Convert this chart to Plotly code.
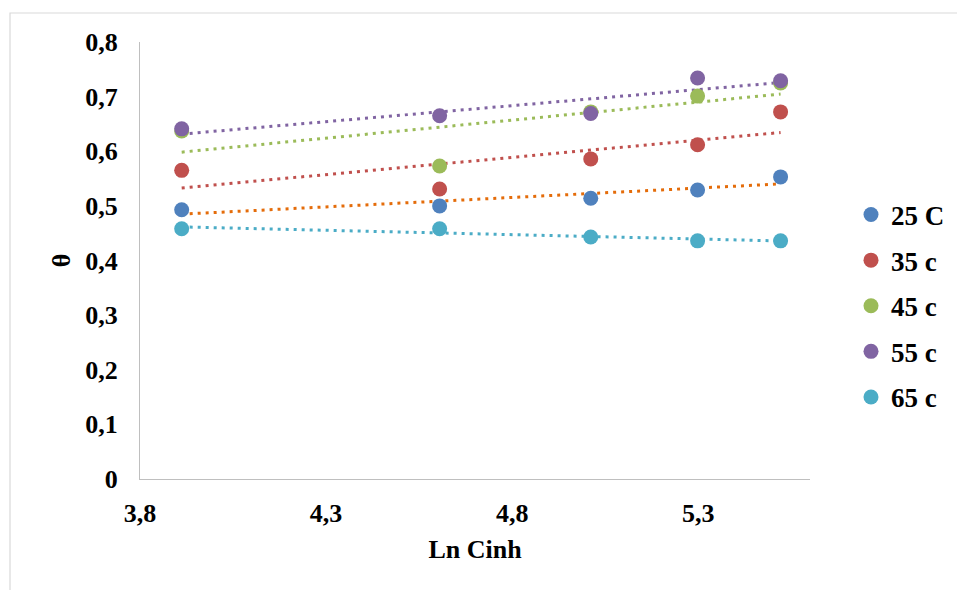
import numpy as np
import plotly.graph_objects as go

# Data
ln_cinh = [3.912, 4.605, 5.011, 5.298, 5.521]
series_names = ["25 C", "35 c", "45 c", "55 c", "65 c"]
theta_25 = [0.493, 0.500, 0.514, 0.529, 0.553]
theta_35 = [0.565, 0.531, 0.586, 0.612, 0.672]
theta_45 = [0.637, 0.573, 0.672, 0.701, 0.725]
theta_55 = [0.641, 0.665, 0.669, 0.734, 0.729]
theta_65 = [0.458, 0.458, 0.443, 0.436, 0.436]
x_ticks = [3.8, 4.3, 4.8, 5.3]

series_values = [theta_25, theta_35, theta_45, theta_55, theta_65]
marker_colors = ["#4F81BD", "#C0504D", "#9BBB59", "#8064A2", "#4BACC6"]
trend_colors = ["#E46C0A", "#C0504D", "#9BBB59", "#8064A2", "#4BACC6"]

W, H = 957, 590
PL, PT, PR, PB = 140, 42, 810, 479  # plot area in page pixels
L, T = PL, PT
pw, ph = PR - PL, PB - PT
R, B = W - L - pw, H - T - ph

FONT = "Liberation Serif"

fig = go.Figure()
for i, (name, vals) in enumerate(zip(series_names, series_values)):
    xs = np.array(ln_cinh)
    ys = np.array(vals)
    k, b0 = np.polyfit(xs, ys, 1)
    xt = np.array([xs.min(), xs.max()])
    fig.add_trace(go.Scatter(
        x=xt, y=k * xt + b0, mode="lines",
        line=dict(color=trend_colors[i], width=3, dash="3px,5px"),
        showlegend=False, hoverinfo="skip"))
for i, (name, vals) in enumerate(zip(series_names, series_values)):
    fig.add_trace(go.Scatter(
        x=ln_cinh, y=vals, mode="markers", name=name,
        legendgroup=name,
        marker=dict(color=marker_colors[i], size=15)))

def px_x(p):  # page px -> paper
    return (p - PL) / pw

def px_y(p):
    return (PB - p) / ph

fig.add_shape(type="rect", xref="paper", yref="paper",
              x0=px_x(10), x1=px_x(1100), y0=px_y(700), y1=px_y(13),
              line=dict(color="#D9D9D9", width=1.2), fillcolor="rgba(0,0,0,0)",
              layer="below")

fig.update_layout(
    width=W, height=H,
    margin=dict(l=L, r=R, t=T, b=B, autoexpand=False),
    paper_bgcolor="white", plot_bgcolor="white",
    separators=",.",
    font=dict(family=FONT, size=26, color="black"),
    showlegend=True,
    legend=dict(x=px_x(851), xanchor="left", y=px_y(306), yanchor="middle",
                font=dict(family=FONT, size=27, color="black", weight="bold"),
                tracegroupgap=7.5, itemwidth=30, bgcolor="rgba(0,0,0,0)"),
    xaxis=dict(range=[3.8, 5.6], tickvals=x_ticks, showgrid=False, zeroline=False,
               showline=True, linecolor="#BFBFBF", linewidth=1.3, ticks="",
               tickfont=dict(family=FONT, size=26, color="black", weight="bold"),
               ticklabelstandoff=11,
               title=dict(text="<b>Ln Cinh</b>", standoff=12,
                          font=dict(family=FONT, size=26, color="black"))),
    yaxis=dict(range=[0, 0.8], dtick=0.1, tick0=0, showgrid=False, zeroline=False,
               showline=True, linecolor="#BFBFBF", linewidth=1.3, ticks="",
               tickfont=dict(family=FONT, size=26, color="black", weight="bold"),
               ticklabelstandoff=16,
               title=dict(text="<b>θ</b>", standoff=7,
                          font=dict(family=FONT, size=26, color="black"))),
)

fig.write_html(
    "out.html",
    config={"displayModeBar": False},
    post_script="document.body.style.margin='0';document.body.style.overflow='hidden';",
)
